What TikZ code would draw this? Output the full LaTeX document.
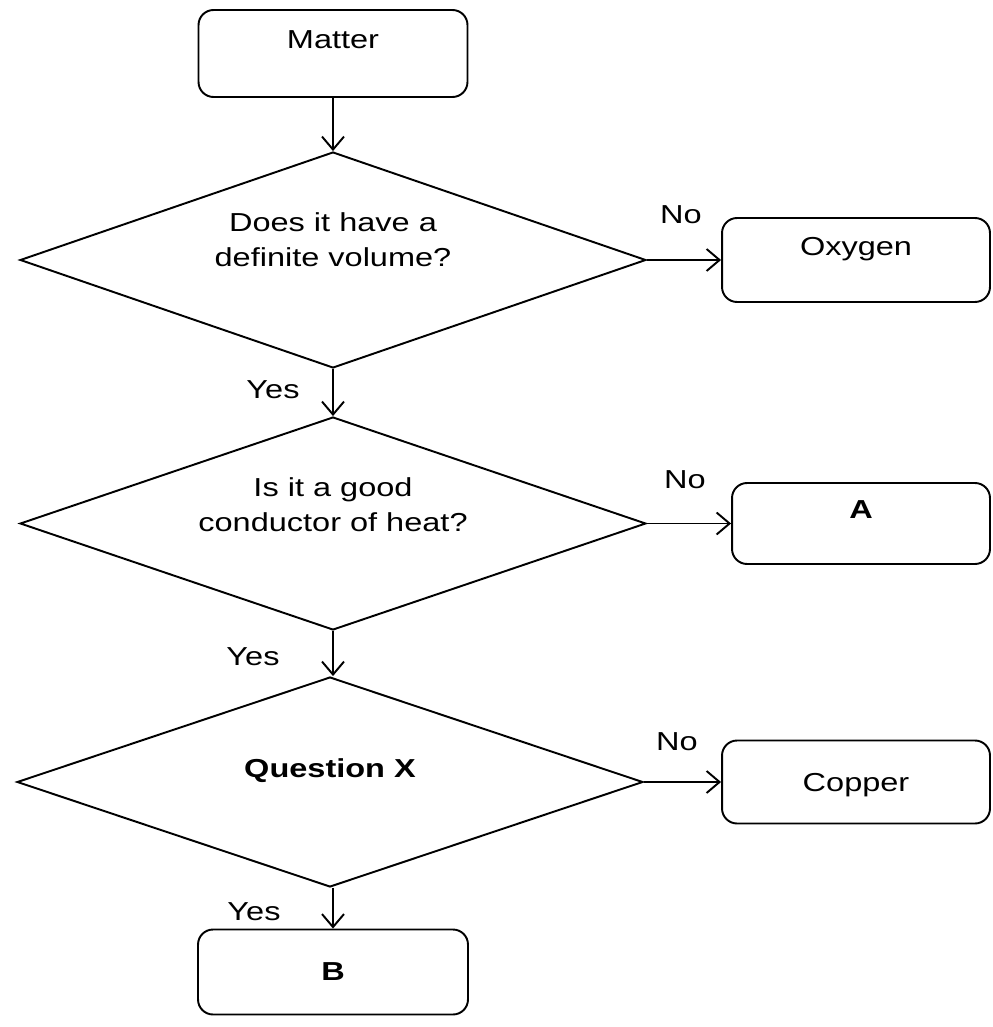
\documentclass[tikz,border=0pt]{standalone}
\usepackage{fontspec}
\setmainfont{Liberation Sans}[FakeStretch=1.25]
\usetikzlibrary{shapes.geometric,arrows.meta}

\begin{document}
\begin{tikzpicture}[x=0.02cm,y=-0.02cm,line width=1.1pt,
  font=\fontsize{14.8pt}{20pt}\selectfont,
  box/.style={draw,rounded corners=0.3cm,minimum width=5.36cm,minimum height=1.68cm,text depth=0.56cm},
  midbox/.style={box,text depth=0pt},
  ask/.style={draw,diamond,aspect=2.94,inner sep=0pt,minimum width=12.52cm,align=center},
  arr/.style={-{Straight Barb[length=0.26cm,width=0.44cm]}},
  lbl/.style={inner sep=0pt}]
\useasboundingbox (0,0) rectangle (992,1027);
\node[box,minimum width=5.38cm,minimum height=1.74cm] (matter) at (333,53.5) {Matter};
\node[ask,minimum height=4.32cm] (q1) at (333,260) {Does it have a\\definite volume?\\[0.1cm]};
\node[ask,minimum height=4.26cm] (q2) at (333,523.5) {Is it a good\\conductor of heat?\\[0.05cm]};
\node[ask,minimum height=4.2cm,text depth=0.56cm] (q3) at (330,782) {\textbf{Question X}};
\node[box] (oxy) at (856,260) {Oxygen};
\node[box,minimum width=5.16cm,minimum height=1.62cm] (a) at (861,523.5) {\textbf{A}};
\node[midbox,minimum height=1.66cm] (copper) at (856,782) {Copper};
\node[midbox,minimum width=5.4cm,minimum height=1.7cm] (b) at (333,972) {\textbf{B}};
\draw[arr] (matter.south) -- (q1.north);
\draw[arr] (q1.east) -- (oxy.west);
\draw[arr] (q1.south) -- (q2.north);
\draw[arr] (q2.east) -- (a.west);
\draw[arr] (q2.south) -- (q3.north -| q2.south);
\draw[arr] (q3.east) -- (copper.west);
\draw[arr] (q3.south -| b.north) -- (b.north);
\node[lbl] (no1) at (681,215) {No};
\node[lbl] (yes1) at (273,390) {Yes};
\node[lbl] (no2) at (685,480) {No};
\node[lbl] (yes2) at (253,657) {Yes};
\node[lbl] (no3) at (677,742) {No};
\node[lbl] (yes3) at (254,912) {Yes};
\end{tikzpicture}
\end{document}
